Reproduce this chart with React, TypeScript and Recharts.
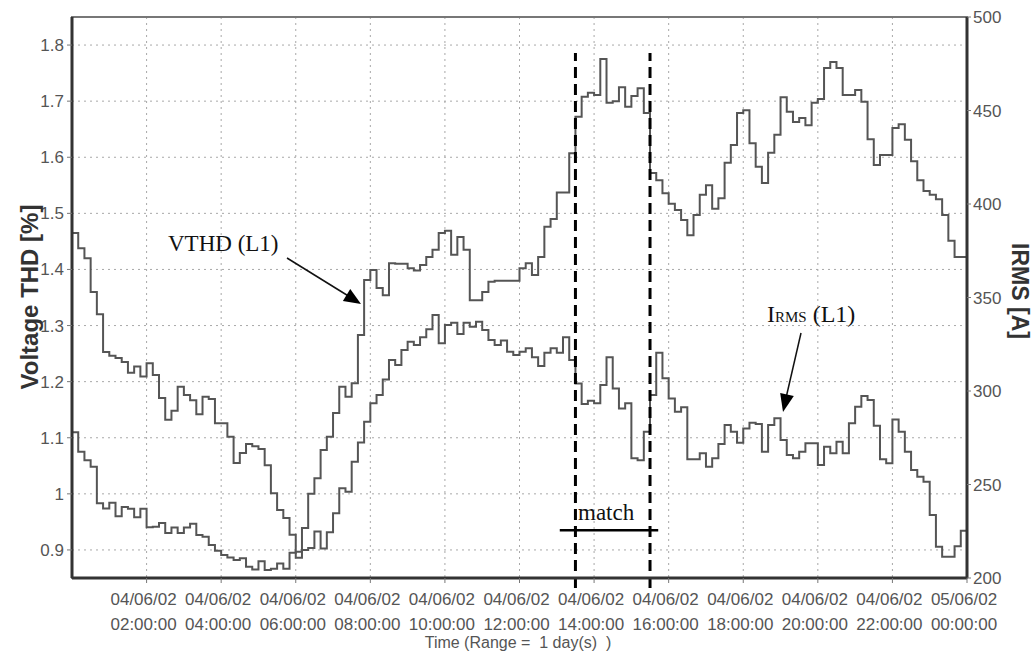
import React from 'react';
import { LineChart, Line, XAxis, YAxis, CartesianGrid, ReferenceLine, ReferenceArea } from 'recharts';

// 10-minute steps over one day (04/06/02 00:00 -> 05/06/02 00:00)
const STEP_HOURS = 1 / 6;

const vthdValues = [
  1.465, 1.438, 1.42, 1.36, 1.32, 1.253, 1.246, 1.242, 1.235, 1.216, 1.227, 1.209,
  1.233, 1.212, 1.171, 1.132, 1.148, 1.191, 1.176, 1.167, 1.142, 1.173, 1.169, 1.126,
  1.126, 1.102, 1.055, 1.073, 1.089, 1.085, 1.08, 1.051, 1.001, 0.971, 0.957, 0.927,
  0.886, 0.939, 1.0, 1.028, 1.078, 1.102, 1.144, 1.191, 1.173, 1.197, 1.283, 1.381,
  1.399, 1.367, 1.354, 1.411, 1.41, 1.41, 1.402, 1.398, 1.408, 1.422, 1.435, 1.465,
  1.469, 1.426, 1.458, 1.435, 1.345, 1.345, 1.36, 1.378, 1.38, 1.38, 1.38, 1.38,
  1.402, 1.411, 1.39, 1.422, 1.476, 1.49, 1.537, 1.537, 1.607, 1.672, 1.708, 1.715,
  1.711, 1.775, 1.697, 1.7, 1.725, 1.69, 1.709, 1.723, 1.679, 1.572, 1.559, 1.536,
  1.517, 1.506, 1.488, 1.461, 1.497, 1.533, 1.55, 1.508, 1.527, 1.59, 1.622, 1.679,
  1.684, 1.625, 1.583, 1.554, 1.608, 1.64, 1.707, 1.681, 1.663, 1.67, 1.657, 1.697,
  1.704, 1.759, 1.77, 1.759, 1.711, 1.711, 1.72, 1.699, 1.632, 1.586, 1.604, 1.604,
  1.652, 1.659, 1.631, 1.593, 1.559, 1.54, 1.533, 1.525, 1.497, 1.451, 1.422, 1.422,
];

const irmsValues = [
  278, 267.5, 263, 259.5, 240, 237.2, 240.3, 233, 238, 237, 232.5, 237,
  227.2, 227.4, 229.4, 224, 227, 224, 227, 229, 223, 222, 217.6, 214.6,
  212.3, 211, 209.6, 210.5, 206, 204.6, 209, 204.3, 205, 207.8, 205, 213.5,
  214, 215, 216, 224.8, 215.8, 224.4, 234.6, 248, 246.1, 262.2, 272.5, 283.6,
  293.4, 297.8, 306.2, 316.6, 313.9, 321.9, 326.4, 324.6, 328.7, 333, 340.6, 325.5,
  335.3, 336.5, 330.5, 336.5, 334.4, 337, 332.6, 327.3, 324.6, 327, 321, 319.2,
  321, 322.8, 318, 313.4, 320.5, 322.8, 320.5, 328.7, 316.6, 304, 293, 294.8,
  293.4, 303.2, 318, 301.4, 290.7, 293.4, 264, 263, 278.2, 297.8, 320.5, 306.8,
  296, 288.9, 291.3, 263.5, 263.5, 266.7, 259.5, 264, 271.6, 281.8, 278.2, 272.3,
  280, 283, 282.3, 267.5, 281.8, 285.4, 273.8, 265.8, 264, 267.5, 272, 272,
  260.4, 270.2, 266.7, 272.9, 266.7, 282.7, 291.6, 297.3, 295.2, 281.4, 263.5, 261.3,
  284.8, 278.2, 267.5, 257.7, 254.2, 251.5, 233.7, 216.7, 211.4, 211.4, 217, 225.3,
];

const xTicks = [2, 4, 6, 8, 10, 12, 14, 16, 18, 20, 22, 24];
const xTickDates = ['04/06/02', '04/06/02', '04/06/02', '04/06/02', '04/06/02', '04/06/02',
  '04/06/02', '04/06/02', '04/06/02', '04/06/02', '04/06/02', '05/06/02'];
const xTickTimes = ['02:00:00', '04:00:00', '06:00:00', '08:00:00', '10:00:00', '12:00:00',
  '14:00:00', '16:00:00', '18:00:00', '20:00:00', '22:00:00', '00:00:00'];
const thdTicks = [0.9, 1.0, 1.1, 1.2, 1.3, 1.4, 1.5, 1.6, 1.7, 1.8];
const irmsTicks = [200, 250, 300, 350, 400, 450, 500];
const thdDomain = [0.85, 1.85];
const irmsDomain = [200, 500];
const matchWindow = [13.5, 15.5];
const matchBar = [13.08, 15.72];
const matchBarLevel = 0.935;
const matchDashRange = [0.832, 1.786];

const data = vthdValues.map((v, i) => ({ t: i * STEP_HOURS, vthd: v, irms: irmsValues[i] }));
data.push({ t: 24, vthd: vthdValues[vthdValues.length - 1], irms: irmsValues[irmsValues.length - 1] });

const SANS = 'Liberation Sans, Arial, Helvetica, sans-serif';
const SERIF = 'Liberation Serif, Times New Roman, serif';
const TICK_COLOR = '#555';

const XTick = (props: any) => {
  const { x, y, payload } = props;
  const idx = xTicks.indexOf(payload.value);
  if (idx < 0) return <g />;
  return (
    <g>
      <text x={x} y={y} textAnchor="middle" fill={TICK_COLOR} fontSize={17} fontFamily={SANS}>
        <tspan x={x - 3} dy={20}>{xTickDates[idx]}</tspan>
        <tspan x={x - 3} dy={25}>{xTickTimes[idx]}</tspan>
      </text>
    </g>
  );
};

function arrowHead(tipX: number, tipY: number, fromX: number, fromY: number, len: number, half: number) {
  const dx = tipX - fromX;
  const dy = tipY - fromY;
  const d = Math.sqrt(dx * dx + dy * dy);
  const ux = dx / d;
  const uy = dy / d;
  const bx = tipX - ux * len;
  const by = tipY - uy * len;
  const px = -uy;
  const py = ux;
  return `${tipX},${tipY} ${bx + px * half},${by + py * half} ${bx - px * half},${by - py * half}`;
}

export default function App() {
  return (
    <div style={{ position: 'absolute', left: 0, top: 0, width: 1032, height: 654, background: '#fff' }}>
      <LineChart
        width={1032}
        height={654}
        data={data}
        margin={{ top: 17, right: 5, bottom: 16, left: 12 }}
        style={{ fontFamily: SANS }}
      >
        <CartesianGrid stroke="#a8a8a8" strokeDasharray="2 4" strokeWidth={1} />
        <ReferenceArea
          x1={0}
          x2={24}
          y1={thdDomain[0]}
          y2={thdDomain[1]}
          fill="none"
          stroke="#777"
          strokeWidth={2}
          ifOverflow="visible"
        />
        <XAxis
          dataKey="t"
          type="number"
          domain={[0, 24]}
          ticks={xTicks}
          allowDataOverflow
          height={60}
          tickSize={5}
          tickMargin={2}
          axisLine={{ stroke: '#333', strokeWidth: 3 }}
          tickLine={{ stroke: '#777' }}
          tick={<XTick />}
          interval={0}
        />
        <YAxis
          type="number"
          domain={thdDomain}
          ticks={thdTicks}
          allowDataOverflow
          width={60}
          tickSize={5}
          tickMargin={3}
          interval={0}
          axisLine={{ stroke: '#333', strokeWidth: 3 }}
          tickLine={{ stroke: '#777' }}
          tick={{ fill: TICK_COLOR, fontSize: 17, fontFamily: SANS }}
          tickFormatter={(v: number) => (Math.abs(v - 1) < 1e-9 ? '1' : v.toFixed(1))}
        />
        <YAxis
          yAxisId="right"
          orientation="right"
          type="number"
          domain={irmsDomain}
          ticks={irmsTicks}
          allowDataOverflow
          width={60}
          tickSize={4}
          tickMargin={2}
          interval={0}
          axisLine={{ stroke: '#333', strokeWidth: 3 }}
          tickLine={{ stroke: '#777' }}
          tick={{ fill: TICK_COLOR, fontSize: 17, fontFamily: SANS }}
        />
        <Line
          type="stepAfter"
          dataKey="vthd"
          stroke="#555"
          strokeWidth={2}
          dot={false}
          activeDot={false}
          isAnimationActive={false}
        />
        <Line
          type="stepAfter"
          dataKey="irms"
          yAxisId="right"
          stroke="#555"
          strokeWidth={2}
          dot={false}
          activeDot={false}
          isAnimationActive={false}
        />
        {matchWindow.map((h) => (
          <ReferenceLine
            key={h}
            segment={[{ x: h, y: matchDashRange[0] }, { x: h, y: matchDashRange[1] }]}
            stroke="#000"
            strokeWidth={3}
            strokeDasharray="11 6"
            ifOverflow="visible"
          />
        ))}
        <ReferenceLine
          segment={[{ x: matchBar[0], y: matchBarLevel }, { x: matchBar[1], y: matchBarLevel }]}
          stroke="#000"
          strokeWidth={2.5}
          ifOverflow="visible"
        />
      </LineChart>
      <svg
        width={1032}
        height={654}
        style={{ position: 'absolute', left: 0, top: 0, pointerEvents: 'none' }}
      >
        <text
          transform="translate(38,297) rotate(-90)"
          textAnchor="middle"
          fontFamily={SANS}
          fontWeight="bold"
          fontSize={24}
          fill="#333"
        >
          Voltage THD [%]
        </text>
        <text
          transform="translate(1012,291) rotate(90)"
          textAnchor="middle"
          fontFamily={SANS}
          fontWeight="bold"
          fontSize={23}
          fill="#333"
        >
          IRMS [A]
        </text>
        <text x={518} y={648} textAnchor="middle" fontFamily={SANS} fontSize={16} fill={TICK_COLOR} style={{ whiteSpace: 'pre' }}>
          {'Time (Range =  1 day(s)  )'}
        </text>
        <text x={168} y={251} fontFamily={SERIF} fontSize={23} fill="#111">VTHD (L1)</text>
        <line x1={287} y1={258} x2={350} y2={297} stroke="#111" strokeWidth={1.5} />
        <polygon points={arrowHead(361, 304, 287, 258, 17, 7)} fill="#000" />
        <text x={767} y={322} fontFamily={SERIF} fontSize={24} fill="#111">
          I
          <tspan fontSize={15}>RMS</tspan>
          <tspan fontSize={24}> (L1)</tspan>
        </text>
        <line x1={801} y1={333} x2={786} y2={398} stroke="#111" strokeWidth={1.5} />
        <polygon points={arrowHead(783, 412, 801, 333, 18, 7)} fill="#000" />
        <text x={578} y={520} fontFamily={SERIF} fontSize={23} fill="#111">match</text>
      </svg>
    </div>
  );
}
